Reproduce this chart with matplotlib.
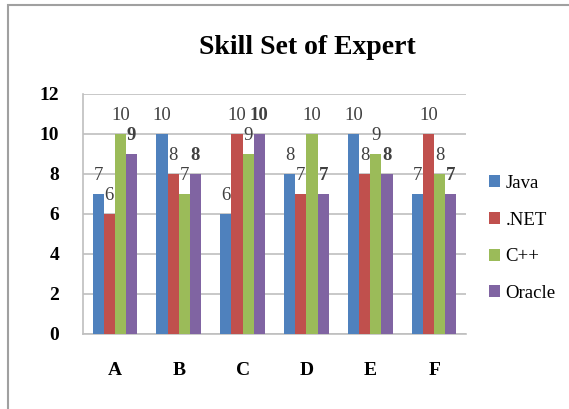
import matplotlib
matplotlib.use('Agg')
import matplotlib.pyplot as plt
from matplotlib.patches import Rectangle
import numpy as np

# Chart data
categories = ['A', 'B', 'C', 'D', 'E', 'F']
series_names = ['Java', '.NET', 'C++', 'Oracle']
java = [7, 10, 6, 8, 10, 7]
dotnet = [6, 8, 10, 7, 8, 10]
cpp = [10, 7, 9, 10, 9, 8]
oracle = [9, 8, 10, 7, 8, 7]
colors = ['#4F81BD', '#C0504D', '#9BBB59', '#8064A2']
y_ticks = [0, 2, 4, 6, 8, 10, 12]

plt.rcParams['font.family'] = ['Liberation Serif', 'DejaVu Serif']

fig = plt.figure(figsize=(5.69, 4.09), dpi=100)
# outer chart border (runs off the right and bottom edge)
fig.patches.append(Rectangle((8 / 569, -0.05), 1.2, 1 - 5 / 409 + 0.05,
                             transform=fig.transFigure, fill=False,
                             edgecolor='#A0A0A0', linewidth=1.5))

ax = fig.add_axes([83 / 569, 1 - 334 / 409, (466 - 83) / 569, (334 - 94) / 409])

all_series = [java, dotnet, cpp, oracle]
x = np.arange(len(categories))
width = 0.175
for i, (name, vals) in enumerate(zip(series_names, all_series)):
    pos = x + (i - 1.5) * width
    bars = ax.bar(pos, vals, width, color=colors[i], label=name, zorder=3)
    for b, v in zip(bars, vals):
        ax.text(b.get_x() + b.get_width() / 2, v + 0.5, str(v),
                ha='center', va='bottom', fontsize=13.5, color='#404040',
                fontweight='bold' if name == 'Oracle' else 'normal', zorder=4)

ax.set_xlim(-0.5, len(categories) - 0.5)
ax.set_ylim(0, 12)
ax.set_yticks(y_ticks)
ax.set_yticklabels([str(t) for t in y_ticks], fontsize=14, fontweight='bold')
ax.set_xticks(x)
ax.set_xticklabels(categories, fontsize=14, fontweight='bold')
ax.tick_params(axis='y', length=0, pad=17)
ax.tick_params(axis='x', length=0, pad=20)
ax.grid(axis='y', color='#BFBFBF', linewidth=1.2, zorder=0)
for s in ['top', 'right']:
    ax.spines[s].set_visible(False)
ax.spines['left'].set_color('#BFBFBF')
ax.spines['bottom'].set_color('#BFBFBF')
ax.spines['left'].set_linewidth(1.2)
ax.spines['bottom'].set_linewidth(1.2)

fig.text(307 / 569, 1 - 47 / 409, 'Skill Set of Expert', ha='center', va='center',
         fontsize=20, fontweight='bold')

leg = fig.legend(loc='upper left', bbox_to_anchor=(472 / 569, 1 - 158 / 409),
                 frameon=False, fontsize=13.5, handlelength=0.6, handleheight=0.6,
                 handletextpad=0.3, labelspacing=1.05)

fig.savefig('out.png', dpi=100)
